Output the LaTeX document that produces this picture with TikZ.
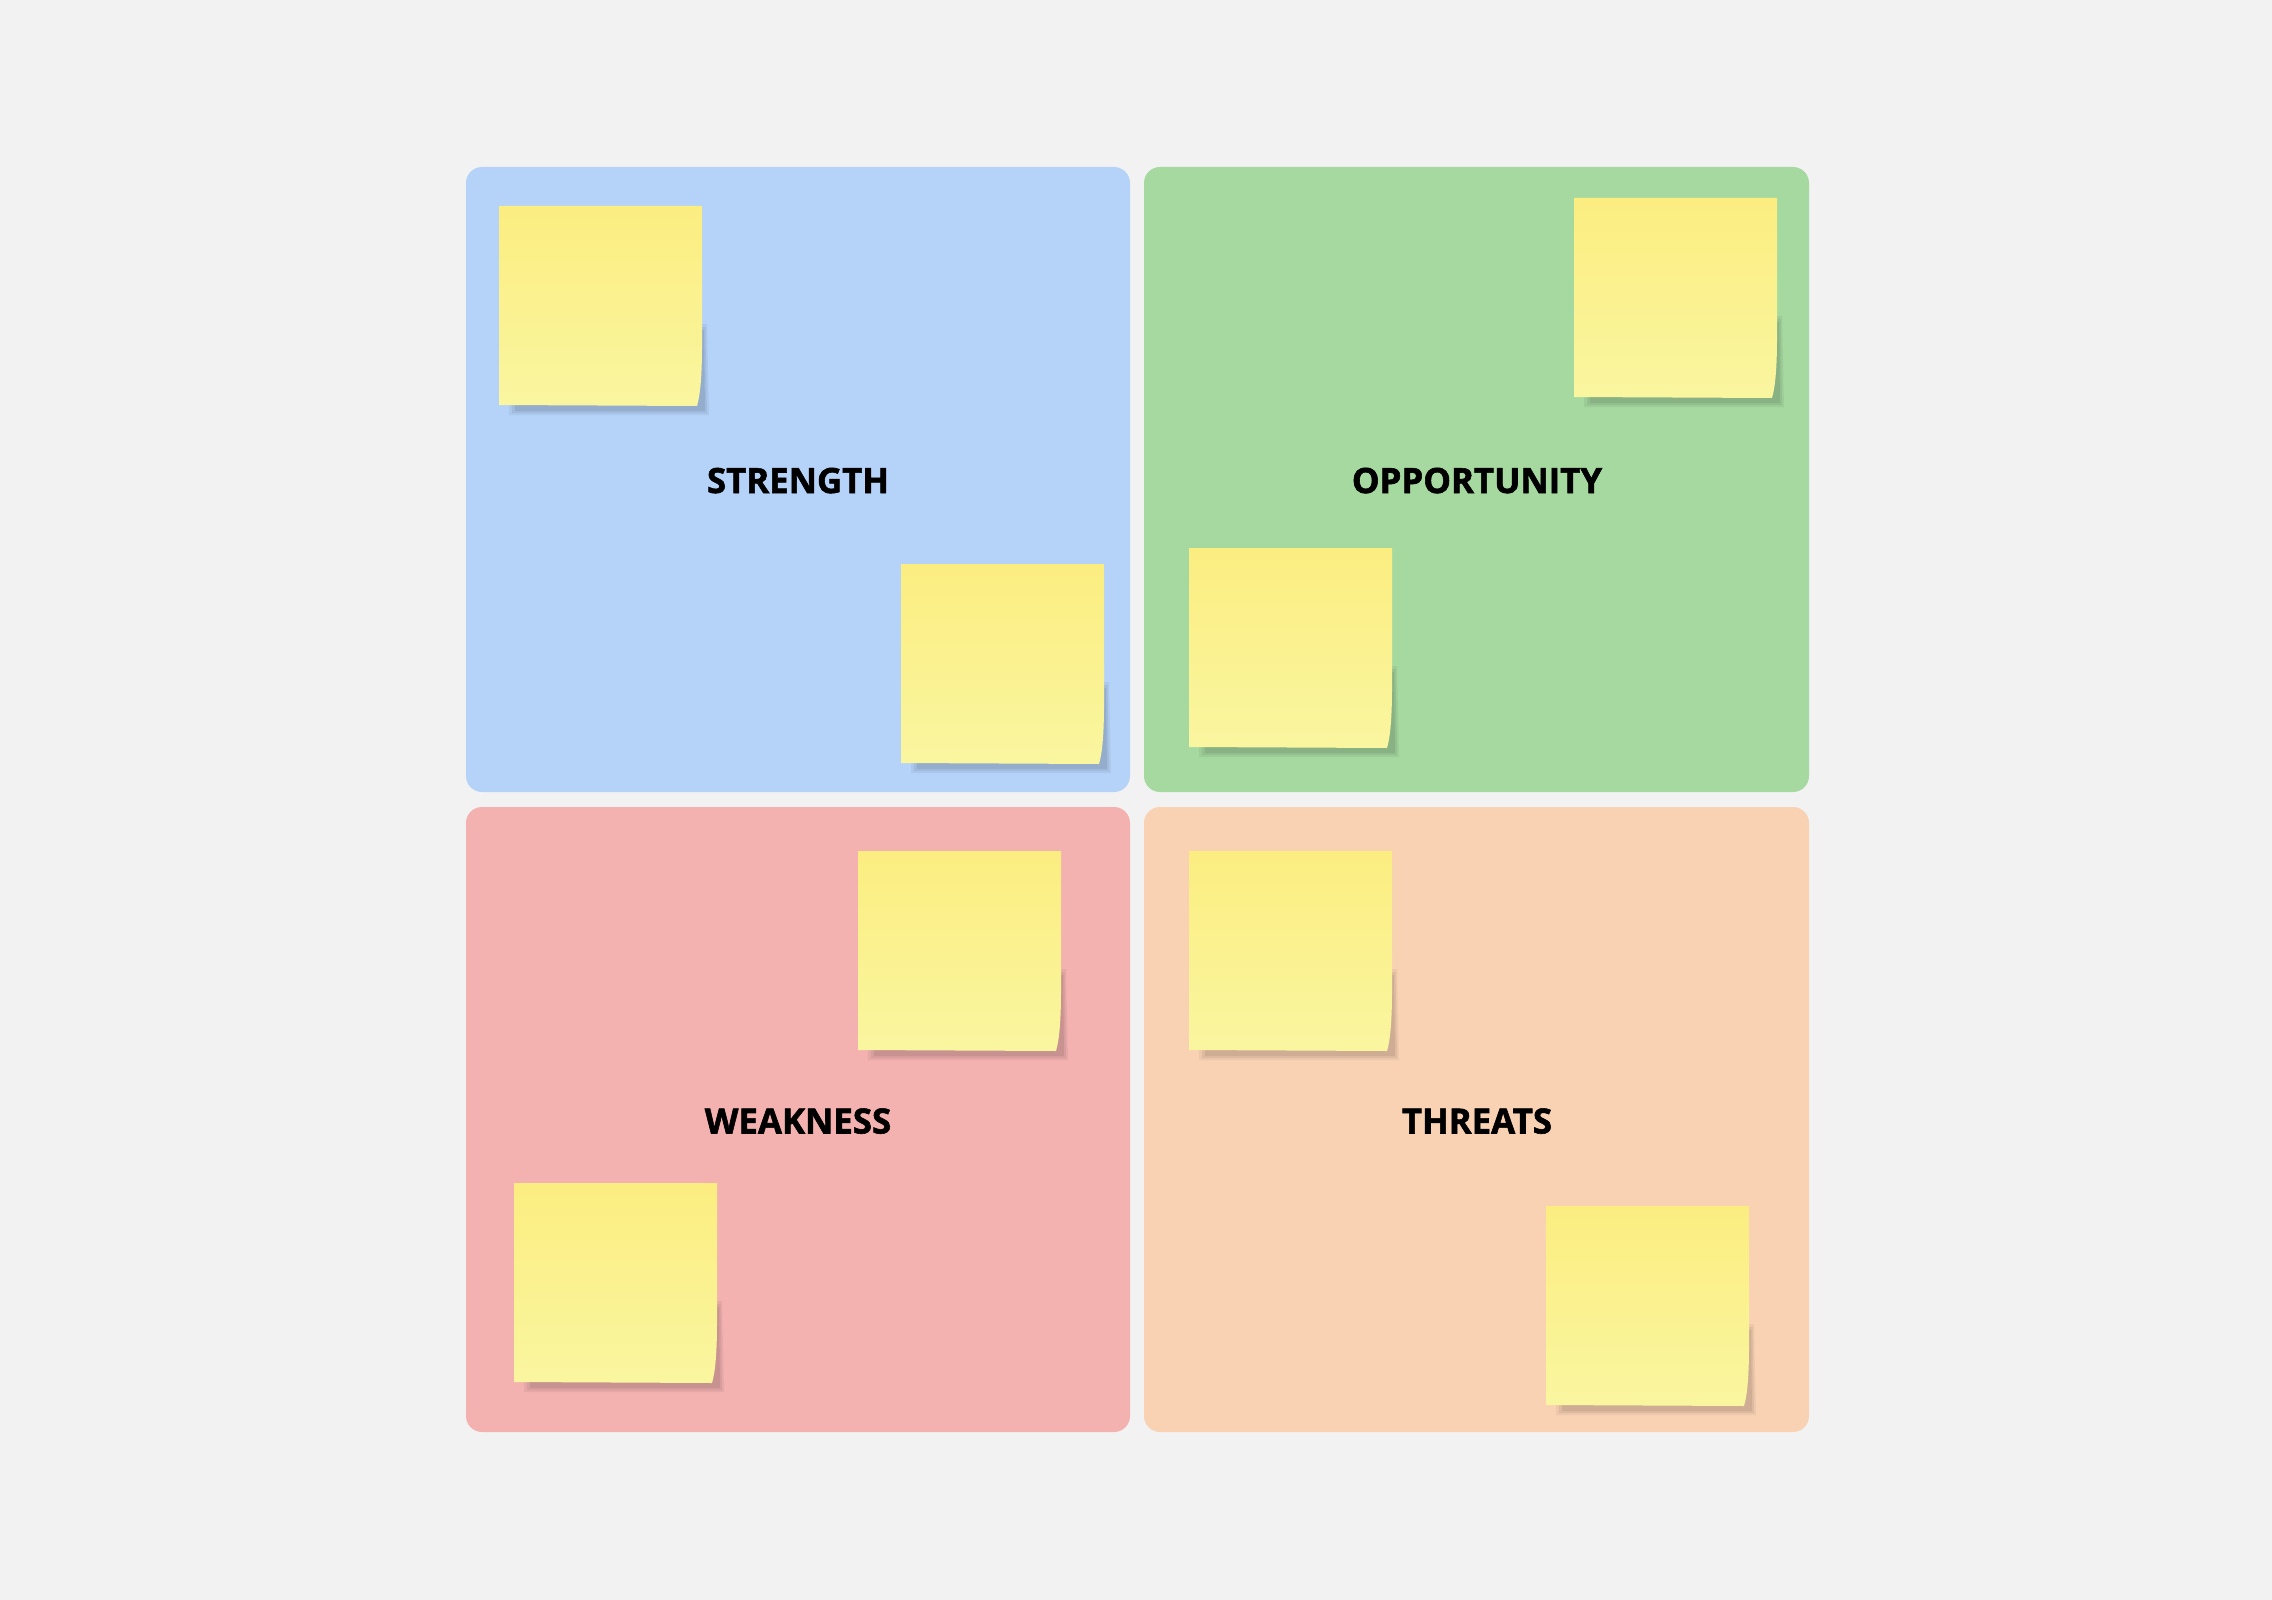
\documentclass[tikz,border=0pt]{standalone}
\usepackage{fontspec}
\setmainfont{Open Sans}
\newfontfamily\titlefont{Open Sans}[BoldFeatures={FakeBold=1.6}]
\usepackage{tikz}

\begin{document}
\begin{tikzpicture}[x=0.5pt,y=-0.5pt,
  quad/.style={rounded corners=8pt},
  quadtitle/.style={anchor=base,inner sep=0pt,text=black,font=\titlefont\bfseries\fontsize{17.4}{21}\selectfont},
  sticky/.pic={
    % soft shadow
    \fill [black,opacity=0.05] (12,118) -- (208,118) -- (210,209) -- (10,209) -- cycle ;
    \fill [black,opacity=0.06] (15,121) -- (206.5,121) -- (208,207) -- (13,207) -- cycle ;
    \fill [black,opacity=0.07] (18,124) -- (205,124) -- (206,205) -- (16,205) -- cycle ;
    % paper
    \shade [top color={rgb, 255:red, 251; green, 237; blue, 128 },bottom color={rgb, 255:red, 250; green, 246; blue, 160 }] (0,0) -- (203,0) -- (203,140) .. controls (203,172) and (201,190) .. (198,200) -- (0,199) -- cycle ;
  }]
%set diagram size 2272 x 1600
\fill [fill={rgb, 255:red, 242; green, 242; blue, 242 }] (0,0) rectangle (2272,1600) ;
\useasboundingbox (0,0) rectangle (2272,1600) ;

%Shape: Rectangle [strength]
\fill [quad,fill={rgb, 255:red, 181; green, 210; blue, 248 }] (466,167) rectangle (1130,792) ;
%Shape: Rectangle [opportunity]
\fill [quad,fill={rgb, 255:red, 166; green, 217; blue, 160 }] (1144,167) rectangle (1809,792) ;
%Shape: Rectangle [weakness]
\fill [quad,fill={rgb, 255:red, 243; green, 178; blue, 176 }] (466,807) rectangle (1130,1432) ;
%Shape: Rectangle [threats]
\fill [quad,fill={rgb, 255:red, 249; green, 210; blue, 180 }] (1144,807) rectangle (1809,1432) ;

%Sticky notes
\pic at (499,206) {sticky} ;
\pic at (901,564) {sticky} ;
\pic at (1574,198) {sticky} ;
\pic at (1189,548) {sticky} ;
\pic at (858,851) {sticky} ;
\pic at (514,1183) {sticky} ;
\pic at (1189,851) {sticky} ;
\pic at (1546,1206) {sticky} ;

% Text Node
\node [quadtitle] (strength) at (798,493) {STRENGTH};
% Text Node
\node [quadtitle] (opportunity) at (1477,493) {OPPORTUNITY};
% Text Node
\node [quadtitle] (weakness) at (798,1133.5) {WEAKNESS};
% Text Node
\node [quadtitle] (threats) at (1477,1133.5) {THREATS};

\end{tikzpicture}
\end{document}
